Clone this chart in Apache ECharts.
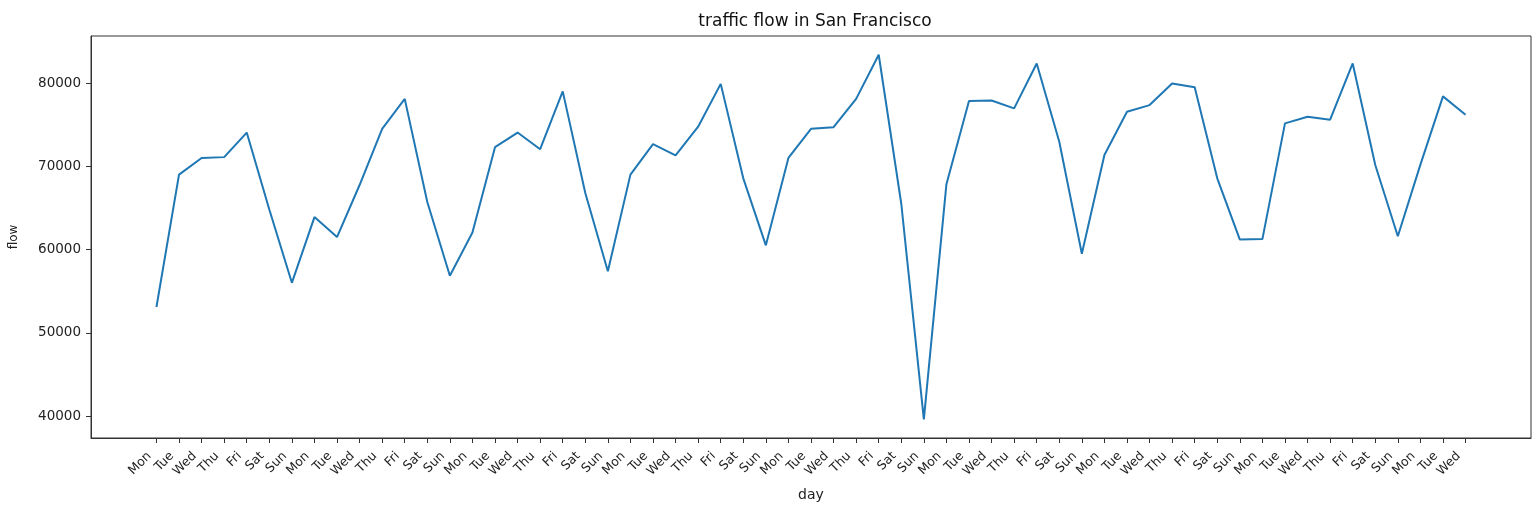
<!DOCTYPE html>
<html>
<head>
<meta charset="utf-8">
<script src="https://cdn.jsdelivr.net/npm/echarts@6/dist/echarts.min.js"></script>
<style>
html,body{margin:0;padding:0;background:#fff;}
#chart{width:1538px;height:510px;}
</style>
</head>
<body>
<div id="chart"></div>
<script>
const days = [
  'Mon','Tue','Wed','Thu','Fri','Sat','Sun',
  'Mon','Tue','Wed','Thu','Fri','Sat','Sun',
  'Mon','Tue','Wed','Thu','Fri','Sat','Sun',
  'Mon','Tue','Wed','Thu','Fri','Sat','Sun',
  'Mon','Tue','Wed','Thu','Fri','Sat','Sun',
  'Mon','Tue','Wed','Thu','Fri','Sat','Sun',
  'Mon','Tue','Wed','Thu','Fri','Sat','Sun',
  'Mon','Tue','Wed','Thu','Fri','Sat','Sun',
  'Mon','Tue','Wed'
];
const flow = [
  53100, 69000, 71000, 71100, 74050, 64800, 56000,
  63900, 61500, 67750, 74500, 78100, 65700, 56850,
  62050, 72300, 74050, 72050, 79000, 66800, 57400,
  69000, 72650, 71300, 74750, 79900, 68550, 60500,
  71000, 74500, 74700, 78100, 83400, 65500, 39600,
  67850, 77850, 77900, 76950, 82350, 72950, 59500,
  71350, 76550, 77350, 79950, 79500, 68550, 61200,
  61250, 75150, 75950, 75600, 82350, 70150, 61600,
  70200, 78400, 76200
];
const yTicks = [40000, 50000, 60000, 70000, 80000];
const titleText = 'traffic flow in San Francisco';
const xName = 'day';
const yName = 'flow';

const xIdx = days.map((d, i) => i);
const seriesData = flow.map((v, i) => [i, v]);
const n = days.length;
const pad = (n - 1) * 0.05;

const font = 'DejaVu Sans';
const chart = echarts.init(document.getElementById('chart'), null, {renderer: 'canvas'});
chart.setOption({
  animation: false,
  backgroundColor: '#ffffff',
  title: {
    text: titleText,
    left: 810,
    top: 8,
    textAlign: 'center',
    textStyle: {fontFamily: font, fontSize: 17, fontWeight: 'normal', color: '#111'}
  },
  grid: {
    left: 90, right: 7, top: 36, bottom: 72,
    show: true, borderColor: '#333', borderWidth: 1, backgroundColor: 'transparent'
  },
  xAxis: {
    type: 'value',
    min: -pad, max: (n - 1) + pad,
    name: xName,
    nameLocation: 'middle',
    nameGap: 50,
    nameTextStyle: {fontFamily: font, fontSize: 14, color: '#222'},
    axisLine: {show: true, onZero: false, lineStyle: {color: '#333', width: 1}},
    axisTick: {show: true, length: 5, customValues: xIdx, lineStyle: {color: '#333'}},
    axisLabel: {
      customValues: xIdx,
      rotate: 45,
      margin: 9,
      padding: [0, 10, 0, 0],
      fontFamily: font, fontSize: 12.5, color: '#222',
      formatter: v => days[Math.round(v)] || ''
    },
    splitLine: {show: false}
  },
  yAxis: {
    type: 'value',
    min: 37360, max: 85650,
    name: yName,
    nameLocation: 'middle',
    nameGap: 71,
    nameRotate: 90,
    nameTextStyle: {fontFamily: font, fontSize: 12, color: '#222'},
    axisLine: {show: true, onZero: false, lineStyle: {color: '#333', width: 1}},
    axisTick: {show: true, length: 5, customValues: yTicks, lineStyle: {color: '#333'}},
    axisLabel: {
      customValues: yTicks, margin: 10,
      fontFamily: font, fontSize: 13.5, color: '#222',
      formatter: v => String(v)
    },
    splitLine: {show: false}
  },
  series: [{
    type: 'line',
    data: seriesData,
    showSymbol: false,
    symbol: 'none',
    lineStyle: {color: '#1f77b4', width: 2},
    itemStyle: {color: '#1f77b4'}
  }]
});
</script>
</body>
</html>
